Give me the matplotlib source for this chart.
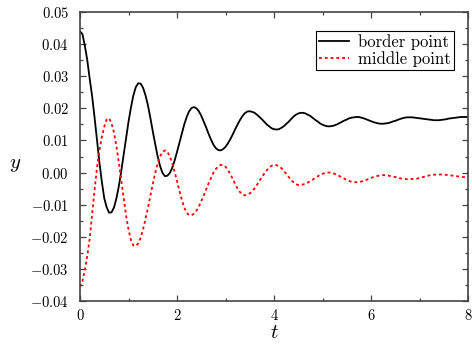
import numpy as np
import matplotlib
matplotlib.use("Agg")
import matplotlib.pyplot as plt
from matplotlib.ticker import MultipleLocator, FuncFormatter

plt.rcParams['mathtext.fontset'] = 'cm'
plt.rcParams['font.family'] = 'serif'
plt.rcParams['font.serif'] = ['cmr10', 'DejaVu Serif']

# sample times (step 0.05)
t = np.linspace(0, 8, 161)

border = [
    0.0440, 0.0431, 0.0395, 0.0350, 0.0292, 0.0238, 0.0172, 0.0102, 0.0032, -0.0028,
    -0.0080, -0.0108, -0.0125, -0.0124, -0.0109, -0.0081, -0.0043, 0.0004, 0.0055, 0.0108,
    0.0158, 0.0202, 0.0240, 0.0266, 0.0278, 0.0277, 0.0264, 0.0241, 0.0210, 0.0171,
    0.0129, 0.0089, 0.0051, 0.0021, -0.0001, -0.0011, -0.0010, -0.0002, 0.0014, 0.0037,
    0.0064, 0.0093, 0.0123, 0.0150, 0.0173, 0.0191, 0.0201, 0.0204, 0.0200, 0.0191,
    0.0177, 0.0159, 0.0141, 0.0121, 0.0103, 0.0087, 0.0076, 0.0070, 0.0069, 0.0073,
    0.0080, 0.0091, 0.0104, 0.0119, 0.0135, 0.0150, 0.0164, 0.0176, 0.0185, 0.0190,
    0.0191, 0.0189, 0.0186, 0.0180, 0.0173, 0.0166, 0.0158, 0.0150, 0.0144, 0.0138,
    0.0135, 0.0134, 0.0135, 0.0139, 0.0144, 0.0151, 0.0158, 0.0166, 0.0174, 0.0180,
    0.0184, 0.0186, 0.0186, 0.0184, 0.0180, 0.0176, 0.0170, 0.0164, 0.0159, 0.0153,
    0.0149, 0.0146, 0.0144, 0.0144, 0.0145, 0.0147, 0.0150, 0.0154, 0.0158, 0.0162,
    0.0165, 0.0169, 0.0171, 0.0172, 0.0173, 0.0173, 0.0171, 0.0169, 0.0166, 0.0163,
    0.0160, 0.0157, 0.0155, 0.0153, 0.0152, 0.0152, 0.0153, 0.0154, 0.0156, 0.0159,
    0.0161, 0.0164, 0.0167, 0.0169, 0.0171, 0.0172, 0.0172, 0.0172, 0.0171, 0.0170,
    0.0169, 0.0168, 0.0167, 0.0166, 0.0165, 0.0164, 0.0163, 0.0163, 0.0163, 0.0164,
    0.0165, 0.0166, 0.0168, 0.0169, 0.0170, 0.0171, 0.0172, 0.0173, 0.0173, 0.0173,
    0.0173,
]

middle = [
    -0.0356, -0.0338, -0.0303, -0.0260, -0.0205, -0.0130, -0.0055, 0.0015, 0.0070, 0.0110,
    0.0143, 0.0165, 0.0169, 0.0154, 0.0125, 0.0083, 0.0032, -0.0024, -0.0081, -0.0134,
    -0.0178, -0.0210, -0.0227, -0.0229, -0.0221, -0.0203, -0.0177, -0.0145, -0.0111, -0.0073,
    -0.0036, -0.0002, 0.0028, 0.0050, 0.0064, 0.0069, 0.0065, 0.0051, 0.0030, 0.0003,
    -0.0026, -0.0057, -0.0085, -0.0109, -0.0125, -0.0133, -0.0133, -0.0128, -0.0119, -0.0106,
    -0.0089, -0.0072, -0.0053, -0.0034, -0.0017, -0.0001, 0.0011, 0.0019, 0.0024, 0.0023,
    0.0018, 0.0008, -0.0005, -0.0020, -0.0036, -0.0050, -0.0061, -0.0069, -0.0071, -0.0069,
    -0.0065, -0.0058, -0.0049, -0.0038, -0.0026, -0.0014, -0.0003, 0.0007, 0.0015, 0.0021,
    0.0024, 0.0023, 0.0020, 0.0014, 0.0006, -0.0004, -0.0013, -0.0023, -0.0030, -0.0036,
    -0.0039, -0.0039, -0.0037, -0.0035, -0.0031, -0.0026, -0.0022, -0.0016, -0.0012, -0.0007,
    -0.0004, -0.0001, 0.0000, 0.0000, -0.0001, -0.0004, -0.0007, -0.0011, -0.0015, -0.0019,
    -0.0023, -0.0026, -0.0029, -0.0030, -0.0030, -0.0029, -0.0028, -0.0026, -0.0023, -0.0020,
    -0.0017, -0.0014, -0.0012, -0.0010, -0.0009, -0.0008, -0.0008, -0.0009, -0.0011, -0.0012,
    -0.0014, -0.0016, -0.0018, -0.0019, -0.0020, -0.0021, -0.0021, -0.0020, -0.0020, -0.0019,
    -0.0017, -0.0015, -0.0013, -0.0011, -0.0009, -0.0008, -0.0007, -0.0006, -0.0006, -0.0006,
    -0.0007, -0.0007, -0.0008, -0.0009, -0.0010, -0.0011, -0.0012, -0.0013, -0.0014, -0.0014,
    -0.0015,
]

labels = ['border point', 'middle point']

fig = plt.figure(figsize=(4.72, 3.44), dpi=100)
ax = fig.add_axes([80 / 472, 1 - 301 / 344, 388 / 472, 289 / 344])

ax.plot(t, border, color='black', lw=1.3, label=labels[0])
ax.plot(t, middle, color='red', lw=1.3, linestyle=(0, (1.6, 1.6)), label=labels[1])

ax.set_xlim(0, 8)
ax.set_ylim(-0.04, 0.05)

ax.xaxis.set_major_locator(MultipleLocator(2))
ax.xaxis.set_minor_locator(MultipleLocator(1))
ax.yaxis.set_major_locator(MultipleLocator(0.01))
ax.yaxis.set_minor_locator(MultipleLocator(0.005))
ax.xaxis.set_major_formatter(FuncFormatter(lambda v, p: r'$%d$' % round(v)))
ax.yaxis.set_major_formatter(FuncFormatter(lambda v, p: r'$%.2f$' % v))

ax.tick_params(which='both', direction='in', top=True, right=True,
               colors='#444444', labelcolor='black', labelsize=10.5, width=0.9)
ax.tick_params(which='major', length=4)
ax.tick_params(which='minor', length=2.5)
ax.tick_params(axis='x', which='major', pad=5)
ax.tick_params(axis='y', which='major', pad=8)
for s in ax.spines.values():
    s.set_color('#444444')
    s.set_linewidth(1.2)

ax.set_xlabel(r'$t$', fontsize=15, va='center')
ax.set_ylabel(r'$y$', fontsize=15, rotation=0, va='center', ha='center')
ax.xaxis.set_label_coords(0.5, -0.11)
ax.yaxis.set_label_coords(-0.168, 0.47)

leg = ax.legend(loc='upper right', bbox_to_anchor=(0.963, 0.935), fontsize=12,
                frameon=True, fancybox=False, framealpha=1, edgecolor='black',
                handlelength=1.8, borderpad=0.2, labelspacing=0.05,
                handletextpad=0.5, borderaxespad=0)
leg.get_frame().set_linewidth(0.8)

fig.savefig('out.png', dpi=100)
